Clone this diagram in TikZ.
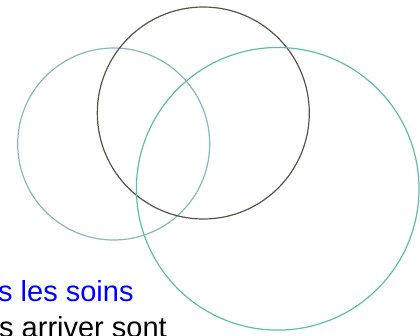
\documentclass[tikz,border=0pt]{standalone}
\usepackage{fontspec}
\setmainfont{Liberation Sans}
\definecolor{leftc}{HTML}{88B8B8}
\definecolor{topc}{HTML}{55534A}
\definecolor{rightc}{HTML}{5EBFA6}
\definecolor{txtblue}{HTML}{0000FF}
\tikzset{
  ring/.style={line width=1.2pt},
  label/.style={inner sep=0pt, anchor=base west, font=\fontsize{29}{33}\selectfont}
}
\begin{document}
\begin{tikzpicture}[x=1pt,y=-1pt]
\useasboundingbox (0,0) rectangle (420,335);
\clip (0,0) rectangle (420,335);
\fill[white] (0,0) rectangle (420,335);
\draw[ring, leftc] (113.7,144) circle[radius=96];
\draw[ring, topc] (203.3,113) circle[radius=106];
\draw[ring, rightc] (277.7,188.8) circle[radius=141.3];
\node[label, text=txtblue] (l1) at (-2,301.5) {s les soins};
\node[label, text=black] (l2) at (-1,337.5) {s arriver sont};
\end{tikzpicture}
\end{document}
